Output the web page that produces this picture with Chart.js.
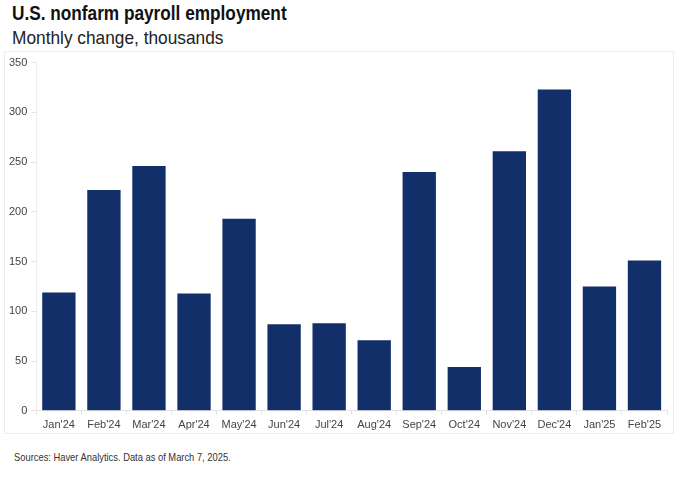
<!DOCTYPE html>
<html>
<head>
<meta charset="utf-8">
<script src="https://cdn.jsdelivr.net/npm/chart.js@4"></script>
<style>
    body { margin: 0; background: #fff; width: 680px; height: 478px; position: relative; overflow: hidden; }
    .txt { position: absolute; left: 12px; transform-origin: left top; white-space: nowrap; font-family: "Liberation Sans", sans-serif; }
    #title { top: 1px; font-size: 21px; font-weight: bold; color: #111; transform: scaleX(0.82); }
    #subtitle { top: 27px; font-size: 19px; color: #222; transform: scaleX(0.91); }
    #frame { position: absolute; left: 4px; top: 51px; width: 668px; height: 381px; border: 1px solid #ececec; }
    #footer { left: 14px; top: 451px; font-size: 11px; color: #333; transform: scaleX(0.85); }
</style>
</head>
<body>
<div id="title" class="txt">U.S. nonfarm payroll employment</div>
<div id="subtitle" class="txt">Monthly change, thousands</div>
<div id="frame"><canvas id="payrollChart" width="668" height="381"></canvas></div>
<div id="footer" class="txt">Sources: Haver Analytics. Data as of March 7, 2025.</div>
<script>
const months = ["Jan'24", "Feb'24", "Mar'24", "Apr'24", "May'24", "Jun'24", "Jul'24",
    "Aug'24", "Sep'24", "Oct'24", "Nov'24", "Dec'24", "Jan'25", "Feb'25"];
const payrollChange = [119, 222, 246, 118, 193, 87, 88, 71, 240, 44, 261, 323, 125, 151];
const yTicks = [0, 50, 100, 150, 200, 250, 300, 350];

const tickFont = { family: "'Liberation Sans', sans-serif", size: 11 };

const ctx = document.getElementById('payrollChart').getContext('2d');
new Chart(ctx, {
    type: 'bar',
    data: {
        labels: months,
        datasets: [{
            data: payrollChange,
            backgroundColor: '#132f69',
            borderWidth: 0,
            barPercentage: 0.74,
            categoryPercentage: 1.0
        }]
    },
    options: {
        responsive: false,
        animation: false,
        layout: { padding: { top: 2, right: 6, left: 0, bottom: -3 } },
        plugins: {
            legend: { display: false },
            tooltip: { enabled: false }
        },
        scales: {
            x: {
                grid: { drawOnChartArea: false, color: '#e4e4e4', tickLength: 4 },
                border: { color: '#e4e4e4' },
                ticks: { color: '#444', font: tickFont, maxRotation: 0, padding: 4 }
            },
            y: {
                min: 0,
                max: 350,
                afterBuildTicks: axis => { axis.ticks = yTicks.map(v => ({ value: v })); },
                grid: { drawOnChartArea: false, color: '#e4e4e4', tickLength: 5 },
                border: { color: '#eeeeee' },
                ticks: { color: '#444', font: tickFont, padding: 4 }
            }
        }
    }
});
</script>
</body>
</html>
